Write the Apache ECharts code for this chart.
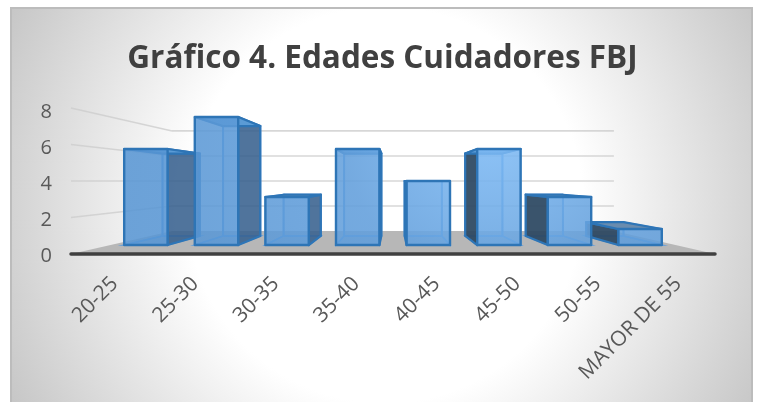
<!DOCTYPE html>
<html><head><meta charset="utf-8">
<style>html,body{margin:0;padding:0;background:#fff}#c{width:760px;height:402px}</style>
<script src="https://cdn.jsdelivr.net/npm/echarts@6/dist/echarts.min.js"></script>
</head><body><div id="c"></div>
<script>
const categories = ['20-25','25-30','30-35','35-40','40-45','45-50','50-55','MAYOR DE 55'];
const values = [6,8,3,6,4,6,3,1];
const yTicks = [0,2,4,6,8];
const titleText = 'Gráfico 4. Edades Cuidadores FBJ';
// perspective depth factors (front plane of the axis = 1)
const S_FRONT = 0.877, S_BACK = 0.752, S_FLOOR = 0.686, BAR_RATIO = 0.615;

const chart = echarts.init(document.getElementById('c'), null, {renderer:'canvas'});
// band-aware x: category coordinates are snapped by the axis, so fractional positions come from band size
const bandX = (api, k) => api.coord([0,0])[0] + k*api.size([1,0])[0];
const vp = api => [bandX(api,3.5), api.coord([0,4])[1]];
const proj = (p, s, v) => [v[0]+(p[0]-v[0])*s, v[1]+(p[1]-v[1])*s];
const lit = new echarts.graphic.RadialGradient(490,130,330,[
  {offset:0,color:'rgba(130,190,248,0.86)'},{offset:0.45,color:'rgba(100,160,220,0.86)'},{offset:1,color:'rgba(88,150,212,0.86)'}],true);

function renderWall(params, api){
  const v = vp(api), t = api.value(0), y = api.coord([0,t])[1];
  const L = [bandX(api,-0.5),y], Rf = [bandX(api,7.5),y];
  const Lb = proj(L,S_FLOOR,v), Rb = proj(Rf,S_FLOOR,v);
  if(t===0){
    return {type:'polygon',shape:{points:[L,Rf,Rb,Lb]},style:{fill:'#b7b7b7',stroke:null},z2:1};
  }
  return {type:'polyline',shape:{points:[L,Lb,Rb]},style:{fill:null,stroke:'rgba(205,205,205,0.8)',lineWidth:1.6},z2:2};
}
function renderBar(params, api){
  const i = api.value(0), val = api.value(1), v = vp(api);
  const w = api.size([1,0])[0]*BAR_RATIO/2;
  const b0 = api.coord([i,0]), t0 = api.coord([i,val]);
  const c = (x,y,s)=>proj([x,y],s,v);
  const l=b0[0]-w, r=b0[0]+w, bot=b0[1], top=t0[1];
  const fbl=c(l,bot,S_FRONT), fbr=c(r,bot,S_FRONT), ftl=c(l,top,S_FRONT), ftr=c(r,top,S_FRONT);
  const bbl=c(l,bot,S_BACK), bbr=c(r,bot,S_BACK), btl=c(l,top,S_BACK), btr=c(r,top,S_BACK);
  const base = (10-Math.abs(i-3.5)*2)*10;
  const edge='#2e75b6', inner='rgba(85,155,225,0.95)';
  const leftBar = i<3.5;
  const sidePts = leftBar ? [ftr,btr,bbr,fbr] : [ftl,btl,bbl,fbl];
  const hidPts = leftBar ? [ftl,btl,bbl,fbl] : [ftr,btr,bbr,fbr];
  const sideFill = leftBar ? 'rgba(55,95,140,0.85)' : 'rgba(45,70,95,0.92)';
  return {type:'group',children:[
    {type:'polygon',z2:base,shape:{points:[btl,btr,bbr,bbl]},style:{fill:'rgba(110,165,220,0.25)',stroke:inner,lineWidth:2}},
    {type:'polygon',z2:base+1,shape:{points:hidPts},style:{fill:'rgba(110,165,220,0.1)',stroke:inner,lineWidth:1.5}},
    {type:'polygon',z2:base+1,shape:{points:[fbl,fbr,bbr,bbl]},style:{fill:'rgba(90,150,210,0.3)',stroke:inner,lineWidth:1.5}},
    {type:'polygon',z2:base+2,shape:{points:sidePts},style:{fill:sideFill,stroke:edge,lineWidth:2.2,lineJoin:'round'}},
    {type:'polygon',z2:base+3,shape:{points:[ftl,ftr,btr,btl]},style:{fill:val<4?'#6a8cae':'#5b9bd5',stroke:edge,lineWidth:2.2,lineJoin:'round'}},
    {type:'polygon',z2:base+4,shape:{points:[ftl,ftr,fbr,fbl]},style:{fill:lit,stroke:edge,lineWidth:2.4,lineJoin:'round'}}
  ]};
}
chart.setOption({
  animation:false,
  title:{text:titleText,left:377.5,top:38,textAlign:'center',textStyle:{fontFamily:'Open Sans',fontWeight:'bold',fontSize:31.5,color:'#404040'}},
  graphic:[{type:'rect',z:-1,silent:true,shape:{x:11,y:8,width:741,height:400},
    style:{fill:new echarts.graphic.RadialGradient(385,205,440,[
      {offset:0,color:'#ffffff'},{offset:0.45,color:'#ffffff'},{offset:1,color:'#c2c2c2'}],true),stroke:'#bcbcbc',lineWidth:2}}],
  grid:[{left:71,right:45,top:108,bottom:148},{left:71,right:45,top:112,bottom:146}],
  xAxis:[{type:'category',gridIndex:0,data:categories,boundaryGap:true,z:5,
    axisLine:{show:true,lineStyle:{color:'#404040',width:3.5}},axisTick:{show:false},
    axisLabel:{rotate:45,interval:0,margin:30,padding:[0,-5,0,0],fontFamily:'Open Sans',fontSize:21,color:'#595959'}},
    {type:'category',gridIndex:1,data:categories,show:false}],
  yAxis:[{type:'value',gridIndex:0,min:0,max:8,interval:2,show:false},
    {type:'value',gridIndex:1,min:0,max:8,interval:2,
    axisLine:{show:false},axisTick:{show:false},splitLine:{show:false},
    axisLabel:{margin:19,fontFamily:'Open Sans',fontSize:20,color:'#595959'}}],
  series:[
    {type:'custom',name:'walls',coordinateSystem:'cartesian2d',xAxisIndex:0,yAxisIndex:0,clip:false,z:1,data:yTicks.map(t=>[t]),
      encode:{y:0},renderItem:renderWall},
    {type:'custom',name:'Edades',coordinateSystem:'cartesian2d',xAxisIndex:0,yAxisIndex:0,clip:false,z:3,data:values.map((d,i)=>[i,d]),
      encode:{x:0,y:1},renderItem:renderBar}
  ]
});
</script></body></html>
